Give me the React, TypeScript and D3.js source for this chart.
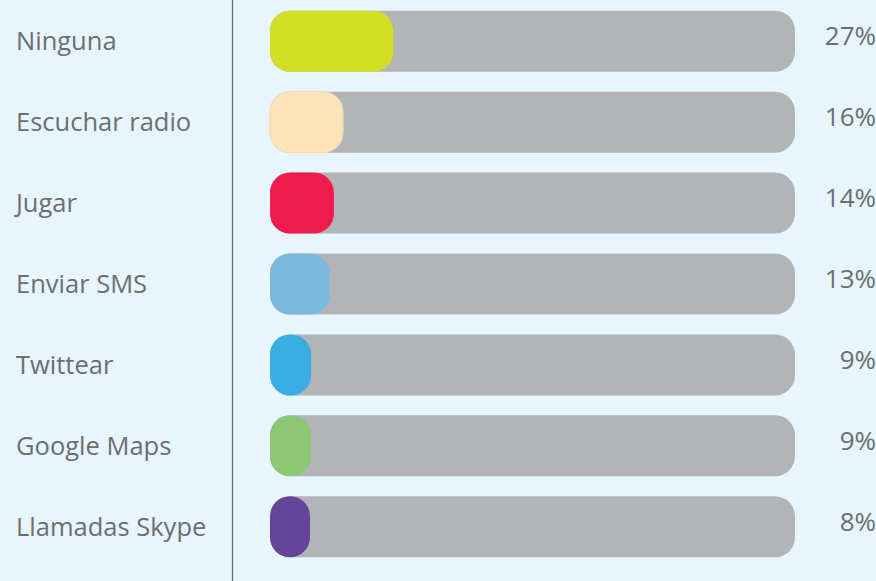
import React from "react";
import * as d3 from "d3";

const categories = ["Ninguna", "Escuchar radio", "Jugar", "Enviar SMS", "Twittear", "Google Maps", "Llamadas Skype"];
const values = [27, 16, 14, 13, 9, 9, 8];
const colors = ["#d3de24", "#fde3b8", "#ee1c4a", "#7ab8e0", "#3aaee3", "#8bc774", "#65449a"];
const labels = ["27%", "16%", "14%", "13%", "9%", "9%", "8%"];

const W = 876;
const H = 581;

export default function App() {
  const y = d3.scaleBand<string>().domain(categories).range([1, 567]).paddingInner(0.245).paddingOuter(0.12);
  const x = d3.scaleLinear().domain([0, 115]).range([270, 795]);
  const bh = 61;
  const font = "'Open Sans', 'Noto Sans', sans-serif";
  return (
    <svg width={W} height={H} style={{ position: "fixed", left: 0, top: 0, display: "block" }}>
      <rect x={0} y={0} width={W} height={H} fill="#e7f5fd" />
      <line x1={232.5} x2={232.5} y1={0} y2={H} stroke="#6d6e71" strokeWidth={1.3} />
      {categories.map((c, i) => {
        const cy = (y(c) as number) + y.bandwidth() / 2;
        const top = cy - bh / 2;
        return (
          <g key={c}>
            <text x={16} y={cy} dy="0.35em" fontFamily={font} fontSize={25.5} fill="#6d6e71">{c}</text>
            <rect x={x(0)} y={top} width={x(115) - x(0)} height={bh} rx={20} ry={20} fill="#b3b4b7" />
            <rect x={x(0)} y={top} width={Math.max(x(values[i]) - x(0), 40)} height={bh} rx={20} ry={20} fill={colors[i]} stroke={i === 1 ? "#f3d9b0" : "none"} strokeWidth={1} />
            <text x={876} y={cy - 5} dy="0.35em" textAnchor="end" fontFamily={font} fontSize={26} fill="#6d6e71">{labels[i]}</text>
          </g>
        );
      })}
    </svg>
  );
}
